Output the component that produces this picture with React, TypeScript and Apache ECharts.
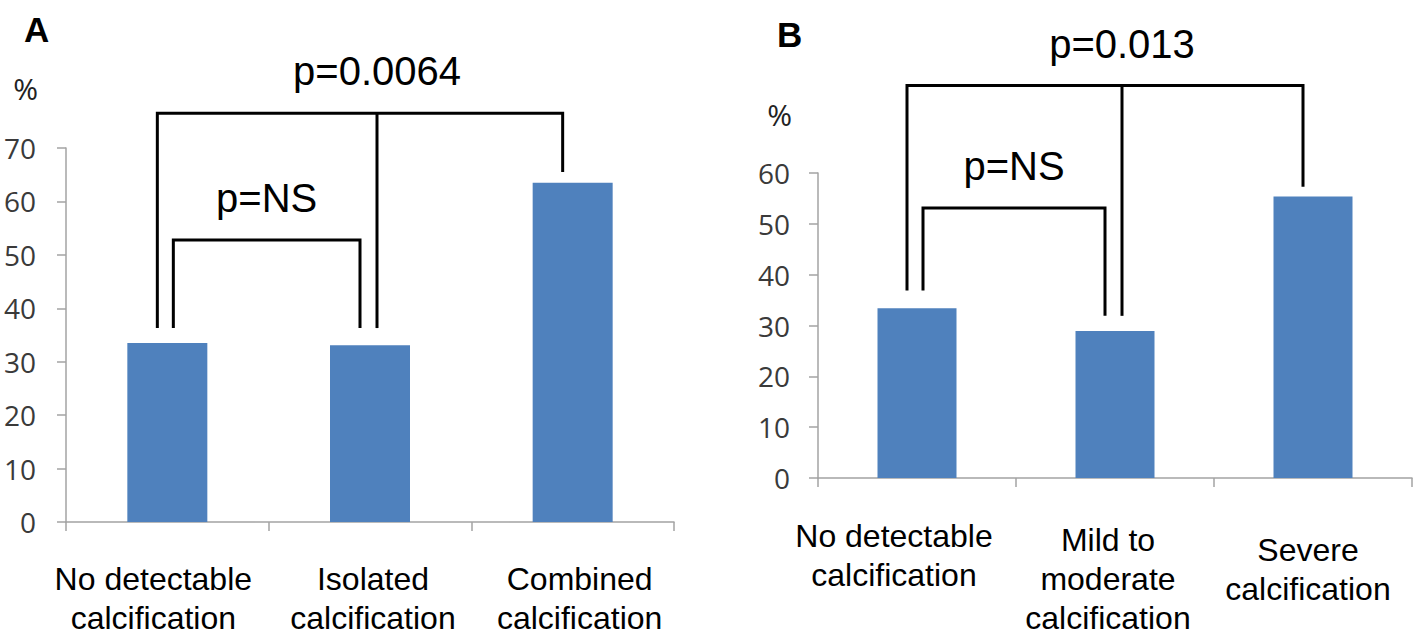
import React, { useEffect, useRef } from "react";
import * as echarts from "echarts";

// ---- data ----
const categoriesA = ["No detectable\ncalcification", "Isolated\ncalcification", "Combined\ncalcification"];
const valuesA = [33.5, 33.1, 63.5];
const categoriesB = ["No detectable\ncalcification", "Mild to\nmoderate\ncalcification", "Severe\ncalcification"];
const valuesB = [33.4, 28.9, 55.4];
const yMaxA = 70;
const yMaxB = 60;
const yStep = 10;

// significance brackets: category indices and levels in % units
const bracketsA = [
  { from: 0, to: 2, mid: 1, top: 76.5, leftEnd: 36.3, rightEnd: 65.5, midEnd: 36.3, label: "p=0.0064" },
  { from: 0, to: 1, mid: -1, top: 52.8, leftEnd: 36.3, rightEnd: 36.3, midEnd: 0, label: "p=NS" },
];
const bracketsB = [
  { from: 0, to: 2, mid: 1, top: 77.2, leftEnd: 36.9, rightEnd: 57.3, midEnd: 31.9, label: "p=0.013" },
  { from: 0, to: 1, mid: -1, top: 53.1, leftEnd: 36.9, rightEnd: 31.9, midEnd: 0, label: "p=NS" },
];

const BAR_COLOR = "#4F81BD";
const AXIS_COLOR = "#a3a3a3";
const TEXT_FONT = "Liberation Sans, Arial, sans-serif";
const TICK_FONT = "Open Sans, sans-serif";

function makeBracketSeries(brackets: typeof bracketsA, idx: number) {
  return {
    type: "custom",
    xAxisIndex: idx,
    yAxisIndex: idx,
    clip: false,
    silent: true,
    z: 10,
    data: brackets.map((_, i) => [i]),
    renderItem: (params: any, api: any) => {
      const b = brackets[params.dataIndex];
      const isBig = b.mid >= 0;
      const lx = api.coord([b.from, b.top])[0] + (isBig ? -10 : 6);
      const rx = api.coord([b.to, b.top])[0] - 10;
      const ty = api.coord([b.from, b.top])[1];
      const ly = api.coord([b.from, b.leftEnd])[1];
      const ry = api.coord([b.to, b.rightEnd])[1];
      const children: any[] = [
        {
          type: "polyline",
          shape: { points: [[lx, ly], [lx, ty], [rx, ty], [rx, ry]] },
          style: { stroke: "#000", lineWidth: 3, fill: "none", lineJoin: "miter" },
        },
      ];
      let tx = (lx + rx) / 2;
      if (isBig) {
        const mx = api.coord([b.mid, b.top])[0] + 7;
        const my = api.coord([b.mid, b.midEnd])[1];
        children.push({
          type: "line",
          shape: { x1: mx, y1: ty, x2: mx, y2: my },
          style: { stroke: "#000", lineWidth: 3 },
        });
        tx = mx;
      }
      children.push({
        type: "text",
        x: tx,
        y: ty - 42,
        style: {
          text: b.label,
          fontSize: 40,
          fontFamily: TEXT_FONT,
          fill: "#000",
          align: "center",
          verticalAlign: "middle",
        },
      });
      return { type: "group", children };
    },
  };
}

function makeCatData(cats: string[], pads: number[][]) {
  return cats.map((c, i) => ({ value: c, textStyle: { padding: pads[i] } }));
}

export default function App() {
  const ref = useRef<HTMLDivElement>(null);
  useEffect(() => {
    if (!ref.current) return;
    const chart = echarts.init(ref.current, undefined, { renderer: "svg" });
    const yAxisBase = (max: number, margin: number, gridIndex: number, nameGap: number, padRight: number) => ({
      type: "value",
      gridIndex,
      min: 0,
      max,
      interval: yStep,
      name: "%",
      nameLocation: "end",
      nameGap,
      nameTextStyle: {
        fontFamily: TICK_FONT,
        fontSize: 30,
        color: "#222",
        align: "right",
        padding: [0, padRight, 0, 0],
      },
      axisLine: { show: true, lineStyle: { color: AXIS_COLOR, width: 1.5 } },
      axisTick: { show: true, length: 9, lineStyle: { color: AXIS_COLOR, width: 1.5 } },
      splitLine: { show: false },
      axisLabel: { margin, fontFamily: TICK_FONT, fontSize: 28, color: "#3a3a3a" },
    });
    const xAxisBase = (data: any[], gridIndex: number, margin: number) => ({
      type: "category",
      gridIndex,
      data,
      axisLine: { lineStyle: { color: AXIS_COLOR, width: 1.5 } },
      axisTick: { show: true, length: 9, alignWithLabel: false, lineStyle: { color: AXIS_COLOR, width: 1.5 } },
      axisLabel: {
        interval: 0,
        margin,
        fontFamily: TEXT_FONT,
        fontSize: 32,
        lineHeight: 39,
        color: "#000",
      },
    });
    chart.setOption({
      animation: false,
      backgroundColor: "#fff",
      grid: [
        { left: 66, top: 148, width: 608, height: 374 },
        { left: 818, top: 173, width: 594, height: 314 },
      ],
      xAxis: [
        xAxisBase(makeCatData(categoriesA, [[0, 28, 0, 0], [0, 0, 0, 6], [0, 0, 0, 14]]), 0, 37),
        xAxisBase(makeCatData(categoriesB, [[0, 46, 0, 0], [4, 14, 0, 0], [14, 10, 0, 0]]), 1, 38),
      ],
      yAxis: [yAxisBase(yMaxA, 30, 0, 45, 28), yAxisBase(yMaxB, 28, 1, 44, 26)],
      graphic: [
        {
          type: "text",
          left: 24,
          top: 12,
          style: { text: "A", fontSize: 35, fontWeight: "bold", fontFamily: TEXT_FONT, fill: "#000" },
        },
        {
          type: "text",
          left: 777,
          top: 17,
          style: { text: "B", fontSize: 35, fontWeight: "bold", fontFamily: TEXT_FONT, fill: "#000" },
        },
      ],
      series: [
        {
          type: "bar",
          xAxisIndex: 0,
          yAxisIndex: 0,
          data: valuesA,
          barWidth: 80,
          itemStyle: { color: BAR_COLOR },
        },
        {
          type: "bar",
          xAxisIndex: 1,
          yAxisIndex: 1,
          data: valuesB,
          barWidth: 79,
          itemStyle: { color: BAR_COLOR },
        },
        makeBracketSeries(bracketsA, 0),
        makeBracketSeries(bracketsB, 1),
      ],
    });
    return () => chart.dispose();
  }, []);
  return (
    <div
      ref={ref}
      style={{ position: "absolute", left: 0, top: 0, width: 1424, height: 637, background: "#fff" }}
    />
  );
}
